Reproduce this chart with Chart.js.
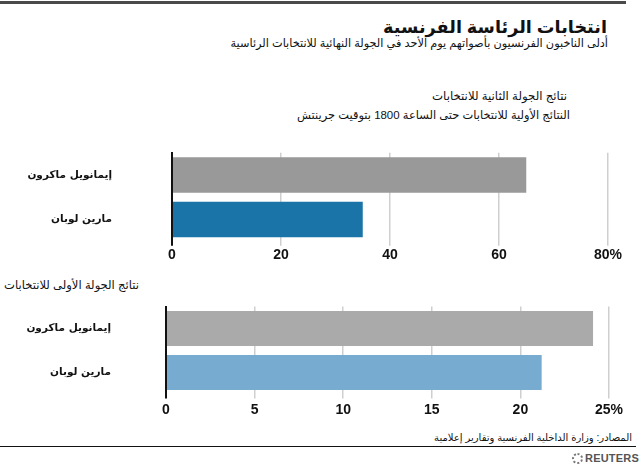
<!DOCTYPE html>
<html><head><meta charset="utf-8">
<script src="https://cdn.jsdelivr.net/npm/chart.js@4.4.1/dist/chart.umd.min.js"></script>
<style>
html,body{margin:0;padding:0;background:#fff;width:640px;height:464px;overflow:hidden;position:relative;font-family:"Liberation Sans","DejaVu Sans",sans-serif;}
.t{position:absolute;white-space:nowrap;line-height:1;color:#111;}
.wrap{position:absolute;left:0;width:640px;height:125px;}
#topline{position:absolute;left:0;top:1px;width:626px;height:3px;background:#4a4a4a;}
#footline{position:absolute;left:0;top:446px;width:636px;height:1px;background:#111;}
#logo{position:absolute;left:572px;top:453px;width:7px;height:7px;border:2px dotted #777;border-radius:50%;}
#reuters{position:absolute;left:585px;top:452px;font:bold 11px "Liberation Sans Narrow","Liberation Sans",sans-serif;color:#555;letter-spacing:0.2px;}
</style></head><body>
<div id="topline"></div>
<div class="wrap" style="top:140px"><canvas id="c1" width="640" height="125"></canvas></div>
<div class="wrap" style="top:295px"><canvas id="c2" width="640" height="125"></canvas></div>
<div id="footline"></div>
<div id="logo"></div>
<div id="reuters">REUTERS</div>
<script>
// ---- data ----
const candidates = ['إيمانويل ماكرون', 'مارين لوبان'];
const secondRoundValues = [65, 35];
const firstRoundValues = [24.1, 21.2];
const secondRoundTicks = ['0', '20', '40', '60', '80%'];
const firstRoundTicks = ['0', '5', '10', '15', '20', '25%'];

const titleText = 'انتخابات الرئاسة الفرنسية';
const subtitleText = 'أدلى الناخبون الفرنسيون بأصواتهم يوم الأحد في الجولة النهائية للانتخابات الرئاسية';
const secondRoundHeading = 'نتائج الجولة الثانية للانتخابات';
const secondRoundNote = 'النتائج الأولية للانتخابات حتى الساعة 1800 بتوقيت جرينتش';
const firstRoundHeading = 'نتائج الجولة الأولى للانتخابات';
const sourceText = 'المصادر: وزارة الداخلية الفرنسية وتقارير إعلامية';

// ---- text (fit to measured widths) ----
function addText(text, left, right, cy, weight) {
  const el = document.createElement('div');
  el.className = 't';
  el.dir = 'rtl';
  el.textContent = text;
  el.style.fontWeight = weight;
  el.style.fontSize = '20px';
  el.style.left = '0px';
  el.style.top = '0px';
  document.body.appendChild(el);
  const w = el.getBoundingClientRect().width;
  const fs = 20 * (right - left) / w;
  el.style.fontSize = fs.toFixed(2) + 'px';
  const w2 = el.getBoundingClientRect().width;
  el.style.left = (right - w2) + 'px';
  el.style.top = (cy - fs * 0.55) + 'px';
}
addText(titleText, 383, 607, 29, 'bold');
addText(subtitleText, 230, 608, 44, 'normal');
addText(secondRoundHeading, 432, 567, 96, 'normal');
addText(secondRoundNote, 297, 570, 116, 'normal');
addText(firstRoundHeading, 4, 139, 286, 'normal');
addText(sourceText, 434, 632, 439, 'normal');

// ---- charts ----
function build(id, values, tickLabels, max, step, colors, g) {
  return new Chart(document.getElementById(id), {
    type: 'bar',
    data: { labels: candidates, datasets: [{ data: values, backgroundColor: colors, borderWidth: 0, barPercentage: 0.8, categoryPercentage: 1 }] },
    options: {
      indexAxis: 'y', responsive: false, animation: false, devicePixelRatio: 1,
      layout: { padding: { top: g.top, bottom: g.bottom, left: 0, right: g.right } },
      plugins: { legend: { display: false }, tooltip: { enabled: false } },
      scales: {
        x: {
          min: 0, max: max,
          ticks: { stepSize: step, autoSkip: false, maxRotation: 0, padding: g.xpad, color: '#111',
                   font: { family: 'Liberation Sans', weight: 'bold', size: 14 },
                   callback: (v, i) => tickLabels[i] },
          grid: { color: c => c.index === 0 ? '#111' : '#cfcfcf',
                  lineWidth: c => c.index === 0 ? 2 : 1.5,
                  drawTicks: true, tickLength: 4 },
          border: { display: false },
          afterFit: s => { s.height = 20; s.paddingTop = 0; s.paddingBottom = 0; }
        },
        y: {
          ticks: { padding: g.ypad, color: '#111', font: { family: 'DejaVu Sans', weight: 'bold', size: 10.5 } },
          grid: { display: false, drawTicks: false },
          border: { display: true, color: '#111', width: 2 },
          afterFit: s => { s.width = g.left; s.paddingTop = 0; s.paddingBottom = 0; }
        }
      }
    }
  });
}
build('c1', secondRoundValues, secondRoundTicks, 80, 20, ['#999999', '#1b74a8'],
  { top: 12.75, bottom: 3.25, right: 32, left: 172, xpad: 1, ypad: 60 });
build('c2', firstRoundValues, firstRoundTicks, 25, 5, ['#aaaaaa', '#77acd0'],
  { top: 11.5, bottom: 5.5, right: 31, left: 166, xpad: 3.5, ypad: 55 });
</script>
</body></html>
